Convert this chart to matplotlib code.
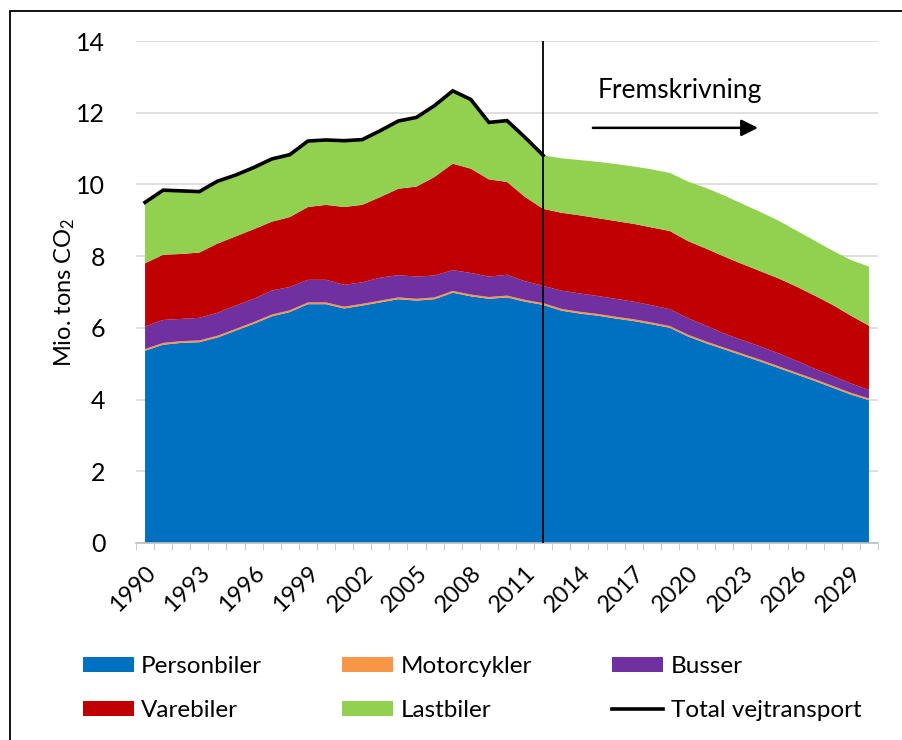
import matplotlib.pyplot as plt
from matplotlib.patches import Rectangle
import numpy as np

plt.rcParams['font.family'] = ['Lato', 'DejaVu Sans']

years = list(range(1990, 2031))

# Mio. tons CO2 per vehicle type
personbiler = [5.36, 5.53, 5.58, 5.60, 5.73, 5.92, 6.11, 6.32, 6.44, 6.66,
               6.66, 6.54, 6.62, 6.71, 6.80, 6.76, 6.80, 6.98, 6.88, 6.81,
               6.85, 6.73, 6.64, 6.48, 6.40, 6.34, 6.26, 6.19, 6.10, 6.00,
               5.76, 5.57, 5.40, 5.23, 5.06, 4.88, 4.70, 4.52, 4.33, 4.14,
               3.98]
motorcykler = [0.05] * 41
busser = [0.63, 0.64, 0.62, 0.63, 0.64, 0.65, 0.65, 0.67, 0.65, 0.63,
          0.63, 0.61, 0.60, 0.64, 0.62, 0.62, 0.61, 0.58, 0.60, 0.57,
          0.58, 0.52, 0.48, 0.51, 0.51, 0.50, 0.50, 0.49, 0.48, 0.47,
          0.46, 0.44, 0.39, 0.38, 0.37, 0.36, 0.33, 0.29, 0.28, 0.26,
          0.24]
varebiler = [1.76, 1.82, 1.81, 1.82, 1.93, 1.93, 1.94, 1.92, 1.95, 2.03,
             2.09, 2.17, 2.16, 2.25, 2.41, 2.51, 2.75, 2.97, 2.91, 2.71,
             2.59, 2.35, 2.15, 2.17, 2.18, 2.17, 2.17, 2.17, 2.17, 2.18,
             2.15, 2.15, 2.15, 2.12, 2.10, 2.09, 2.07, 2.04, 1.98, 1.89,
             1.79]
lastbiler = [1.70, 1.80, 1.76, 1.70, 1.74, 1.71, 1.72, 1.75, 1.74, 1.84,
             1.81, 1.85, 1.82, 1.85, 1.89, 1.93, 1.99, 2.03, 1.93, 1.59,
             1.71, 1.66, 1.49, 1.52, 1.54, 1.57, 1.59, 1.60, 1.62, 1.62,
             1.66, 1.69, 1.70, 1.68, 1.65, 1.61, 1.56, 1.53, 1.51, 1.55,
             1.65]
last_historic_year = 2012

colors = ['#0070C0', '#F79646', '#7030A0', '#C00000', '#92D050']
labels = ['Personbiler', 'Motorcykler', 'Busser', 'Varebiler', 'Lastbiler']

x = np.arange(len(years))
n_hist = years.index(last_historic_year) + 1
total = (np.array(personbiler) + np.array(motorcykler) + np.array(busser)
         + np.array(varebiler) + np.array(lastbiler))

fig = plt.figure(figsize=(9.03, 7.40), dpi=100)
ax = fig.add_axes([136 / 903, 1 - 543 / 740, 742 / 903, 502 / 740])

polys = ax.stackplot(x, personbiler, motorcykler, busser, varebiler,
                     lastbiler, colors=colors, linewidth=0, zorder=2)
line, = ax.plot(x[:n_hist], total[:n_hist], color='black', lw=2.6,
                solid_joinstyle='miter', zorder=4)
ax.axvline(n_hist - 1, ymin=0, ymax=1, color='black', lw=1.3, zorder=5)

ax.set_xlim(-0.5, len(years) - 0.5)
ax.set_ylim(0, 14)
ax.set_yticks(range(0, 15, 2))
ax.grid(axis='y', color='#d9d9d9', lw=1.2, zorder=0)
ax.set_axisbelow(True)

ax.set_xticks(x[::3])
ax.set_xticklabels([str(y) for y in years[::3]], rotation=45, ha='right',
                   rotation_mode='anchor', fontsize=17)
ax.set_xticks(np.arange(-0.5, len(years), 1), minor=True)
ax.tick_params(axis='x', which='major', length=0, pad=14)
ax.tick_params(axis='x', which='minor', length=5, color='#bfbfbf')
ax.tick_params(axis='y', length=0, pad=22, labelsize=18)

for side in ['top', 'right', 'left']:
    ax.spines[side].set_visible(False)
ax.spines['bottom'].set_color('#bfbfbf')
ax.spines['bottom'].set_linewidth(1.2)

ax.set_ylabel(r'Mio. tons $\mathregular{CO_2}$', fontsize=17)
ax.yaxis.set_label_coords(-0.08, 0.5)

# projection marker
ax.text(0.733, 0.902, 'Fremskrivning', transform=ax.transAxes,
        fontsize=19, ha='center', va='center')
ax.annotate('', xy=(0.842, 0.827), xytext=(0.612, 0.827),
            xycoords='axes fraction',
            arrowprops=dict(arrowstyle='-|>', color='black', lw=1.8,
                            mutation_scale=25))

handles = [polys[0], polys[3], polys[1], polys[4], polys[2], line]
names = [labels[0], labels[3], labels[1], labels[4], labels[2],
         'Total vejtransport']
fig.legend(handles, names, ncol=3, loc='upper left',
           bbox_to_anchor=(61 / 903, 1 - 634 / 740), frameon=False,
           fontsize=17.5, handlelength=2.1, handleheight=0.6,
           handletextpad=0.3, columnspacing=3.3, labelspacing=0.95)

# outer frame
fig.patches.append(Rectangle((10 / 903, -0.02), 1.0, 1 - 11 / 740 + 0.02,
                             transform=fig.transFigure, fill=False,
                             edgecolor='black', lw=1.3))

fig.savefig('out.png', dpi=100)
